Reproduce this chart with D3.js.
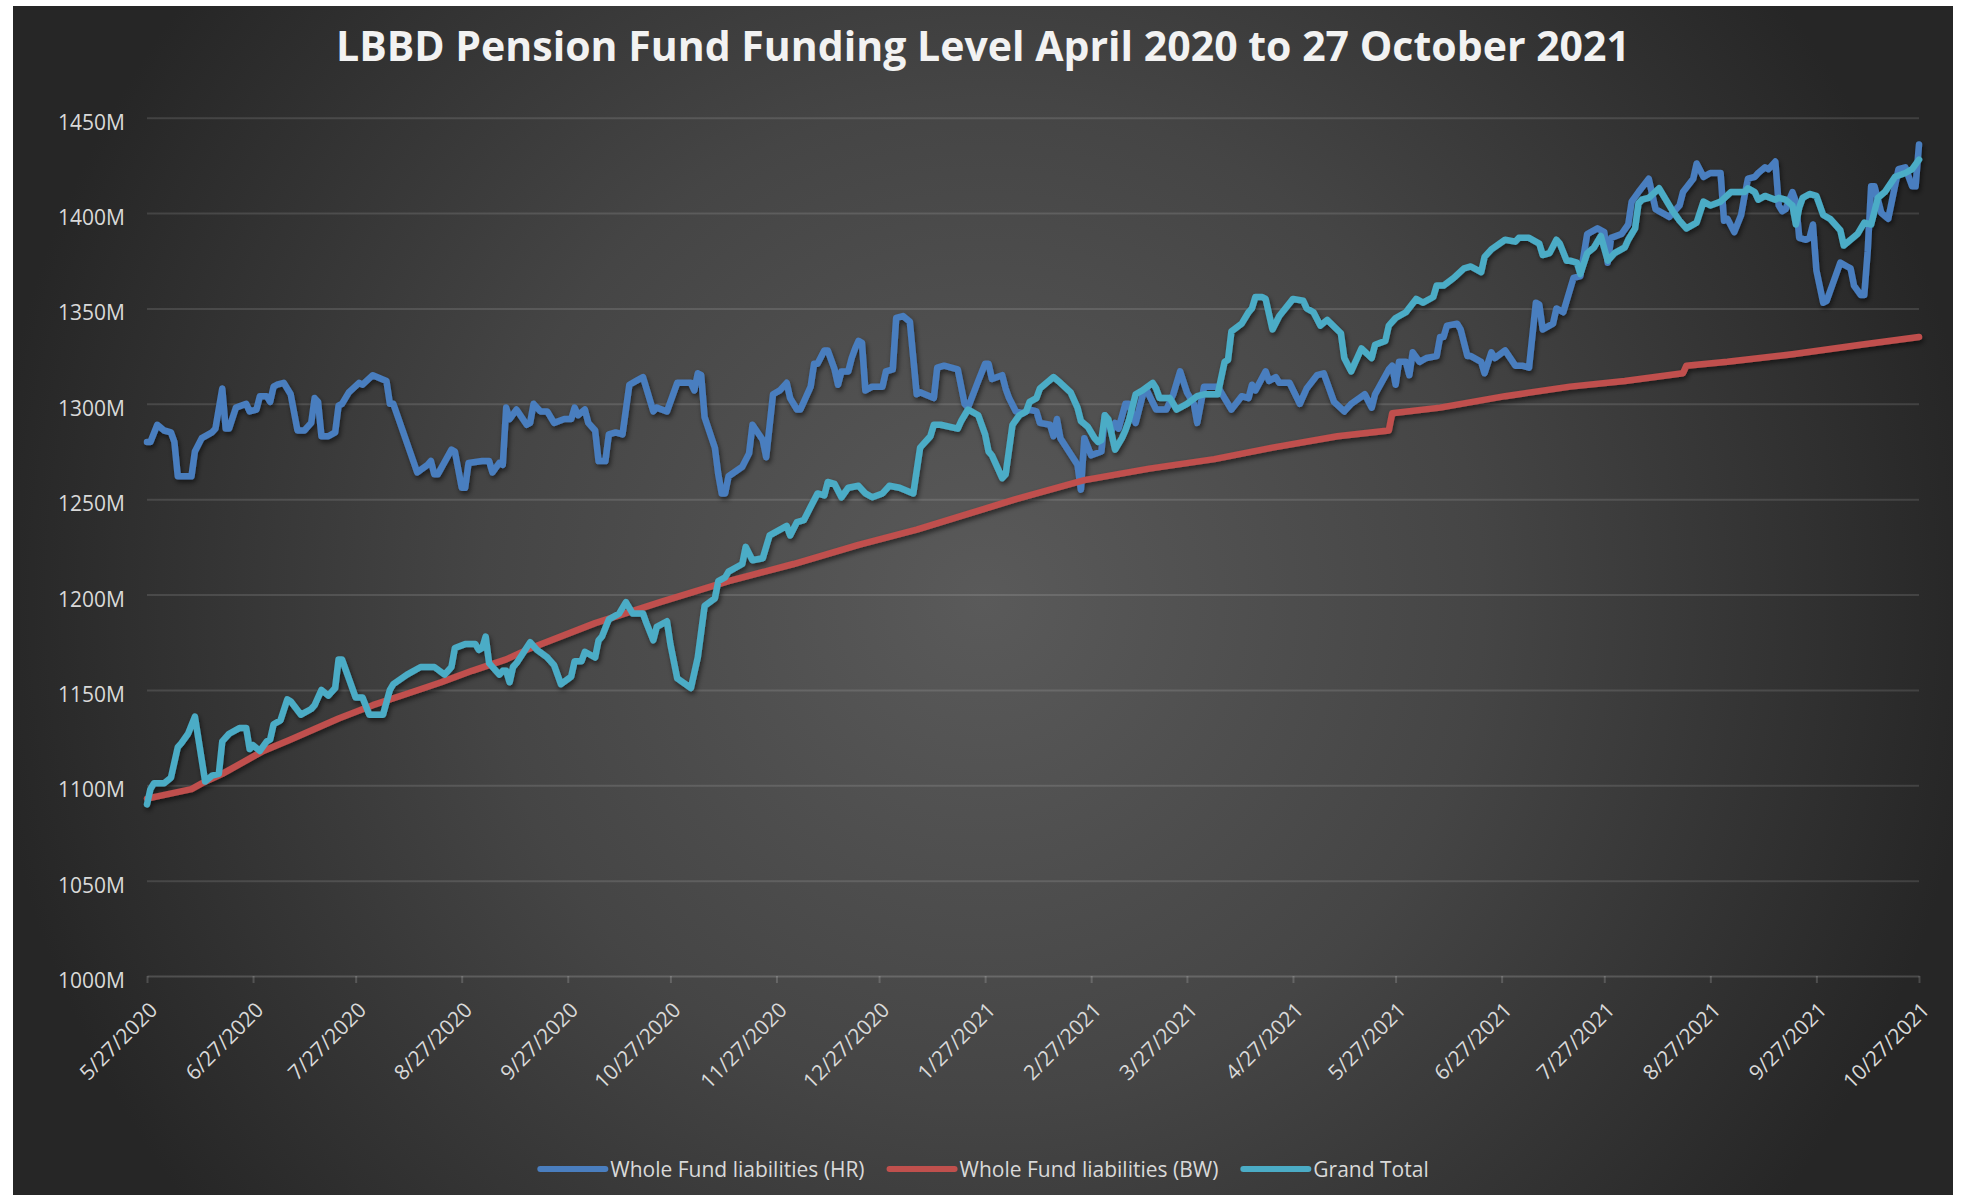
<!doctype html>
<html>
<head>
<meta charset="utf-8">
<style>
    body { margin: 0; background: #fff; }
    svg { display: block; }
    text { font-family: 'Open Sans', sans-serif; }
    .grid line { stroke: #fff; stroke-opacity: 0.12; stroke-width: 2; }
    .grid path { stroke-width: 0; }
    .xaxis path, .xaxis line { stroke: #fff; stroke-opacity: 0.17; stroke-width: 2; }
    .tick text { fill: #d9d9d9; font-size: 21px; }
    text.title { fill: #f2f2f2; font-size: 42px; font-weight: 700; }
    text.legend { fill: #d9d9d9; font-size: 21px; }
    .series { fill: none; stroke-width: 6.5; stroke-linejoin: round; stroke-linecap: round; }
</style>
<script src="https://d3js.org/d3.v7.min.js"></script>
</head>
<body>
<svg width="1966" height="1195"></svg>
<script>
const startDate = '2020-05-27'

// x tick labels (27th of each month)
const xTickLabels = ['5/27/2020', '6/27/2020', '7/27/2020', '8/27/2020', '9/27/2020', '10/27/2020',
    '11/27/2020', '12/27/2020', '1/27/2021', '2/27/2021', '3/27/2021', '4/27/2021', '5/27/2021',
    '6/27/2021', '7/27/2021', '8/27/2021', '9/27/2021', '10/27/2021']
const yTicks = [1000, 1050, 1100, 1150, 1200, 1250, 1300, 1350, 1400, 1450]

const seriesNames = ['Whole Fund liabilities (HR)', 'Whole Fund liabilities (BW)', 'Grand Total']

// Whole Fund liabilities (HR): days after start, value in £M
const hrDays = [0, 1, 3, 5, 7, 8, 9, 13, 14, 16, 19, 20, 22, 23, 24, 26, 29, 30, 32, 33, 35, 36, 37, 38, 40, 42, 44, 46, 48, 49,
    50, 51, 53, 55, 56, 57, 59, 62, 63, 66, 70, 71, 72, 79, 82, 83, 84, 85, 89, 90, 92, 93, 94, 98, 100, 101, 103, 104, 105, 106,
    108, 111, 112, 113, 115, 117, 119, 122, 124, 125, 126, 128, 129, 131, 132, 134, 135, 137, 139, 141, 143, 145, 146, 148, 149, 152, 153, 155, 156, 159,
    160, 161, 162, 163, 166, 167, 168, 169, 170, 174, 176, 177, 180, 181, 183, 185, 187, 188, 190, 191, 194, 195, 196, 198, 199, 201, 202, 203, 205, 206,
    207, 208, 209, 210, 212, 215, 216, 218, 219, 221, 223, 225, 226, 230, 231, 233, 237, 239, 240, 243, 245, 246, 247, 250, 251, 252, 254, 256, 258, 260,
    261, 264, 265, 266, 267, 272, 273, 274, 276, 279, 280, 282, 283, 284, 286, 287, 289, 291, 292, 295, 298, 300, 302, 304, 306, 307, 309, 313, 315, 317,
    320, 322, 323, 324, 327, 328, 330, 331, 334, 337, 339, 342, 344, 347, 350, 352, 356, 358, 359, 363, 364, 365, 366, 368, 369, 370, 372, 374, 377, 378,
    379, 380, 383, 384, 386, 387, 390, 391, 393, 394, 397, 400, 402, 404, 406, 407, 408, 411, 412, 414, 417, 419, 421, 424, 426, 427, 428, 431, 433, 434,
    436, 439, 441, 442, 445, 448, 449, 452, 453, 455, 457, 460, 461, 462, 464, 466, 467, 468, 470, 471, 473, 474, 476, 477, 478, 479, 481, 482, 483, 485,
    486, 487, 488, 490, 491, 493, 495, 497, 498, 499, 501, 502, 503, 504, 505, 507, 509, 512, 514, 516, 517, 518]
const hrValues = [1280, 1280, 1289, 1286, 1285, 1280, 1262, 1262, 1275, 1282, 1285, 1287, 1308, 1287, 1287, 1298, 1300, 1296, 1297, 1304, 1304, 1301, 1309, 1310, 1311, 1305, 1286, 1286, 1290, 1303,
    1301, 1283, 1283, 1285, 1299, 1300, 1306, 1311, 1310, 1315, 1312, 1300, 1300, 1264, 1268, 1270, 1263, 1263, 1276, 1275, 1256, 1256, 1269, 1270, 1270, 1264, 1269, 1268, 1298, 1292,
    1297, 1289, 1290, 1300, 1296, 1296, 1290, 1292, 1292, 1298, 1294, 1297, 1290, 1286, 1270, 1270, 1284, 1285, 1284, 1310, 1312, 1314, 1308, 1296, 1298, 1296, 1301, 1311, 1311, 1311,
    1307, 1316, 1315, 1293, 1277, 1263, 1253, 1253, 1262, 1267, 1274, 1289, 1281, 1272, 1305, 1307, 1311, 1303, 1297, 1297, 1309, 1321, 1321, 1328, 1328, 1318, 1310, 1317, 1317, 1324,
    1329, 1333, 1332, 1307, 1309, 1309, 1317, 1318, 1345, 1346, 1343, 1305, 1306, 1303, 1319, 1320, 1318, 1300, 1298, 1312, 1321, 1321, 1313, 1315, 1308, 1303, 1296, 1295, 1297, 1296,
    1290, 1289, 1283, 1292, 1282, 1268, 1255, 1282, 1273, 1275, 1294, 1286, 1290, 1287, 1300, 1300, 1290, 1304, 1308, 1297, 1297, 1305, 1317, 1306, 1300, 1290, 1309, 1309, 1303, 1297,
    1304, 1303, 1310, 1307, 1317, 1312, 1314, 1311, 1311, 1300, 1308, 1315, 1316, 1301, 1296, 1300, 1305, 1298, 1305, 1318, 1320, 1310, 1322, 1322, 1315, 1327, 1322, 1324, 1325, 1335,
    1335, 1341, 1342, 1339, 1325, 1325, 1322, 1316, 1327, 1324, 1328, 1320, 1320, 1319, 1353, 1352, 1339, 1342, 1350, 1348, 1366, 1367, 1389, 1392, 1390, 1374, 1387, 1389, 1394, 1406,
    1411, 1418, 1402, 1401, 1398, 1404, 1411, 1418, 1426, 1419, 1421, 1421, 1396, 1397, 1390, 1399, 1409, 1418, 1419, 1421, 1424, 1423, 1427, 1404, 1401, 1402, 1411, 1406, 1387, 1386,
    1387, 1394, 1370, 1353, 1354, 1364, 1374, 1372, 1371, 1362, 1357, 1357, 1380, 1414, 1414, 1400, 1397, 1423, 1424, 1414, 1414, 1436]

// Whole Fund liabilities (BW)
const bwDays = [0, 13, 16, 22, 28, 34, 42, 56, 66, 76, 86, 95, 105, 111, 131, 150, 170, 189, 208, 225,
    245, 254, 274, 293, 312, 329, 348, 363, 364, 378, 397, 416, 432, 449, 450, 462, 481, 501, 518]
const bwValues = [1093, 1098, 1101, 1106, 1112, 1118, 1124, 1135, 1142, 1148, 1154, 1160, 1166, 1171, 1185, 1196, 1207, 1216, 1226, 1234,
    1245, 1250, 1260, 1266, 1271, 1277, 1283, 1286, 1295, 1298, 1304, 1309, 1312, 1316, 1320, 1322, 1326, 1331, 1335]

// Grand Total
const gtDays = [0, 1, 2, 5, 7, 9, 10, 12, 14, 17, 19, 21, 22, 24, 27, 29, 30, 31, 33, 35, 36, 37, 39, 41, 42, 45, 48, 49, 51, 53,
    55, 56, 57, 61, 63, 65, 69, 71, 72, 76, 80, 84, 87, 89, 90, 93, 96, 97, 98, 99, 100, 103, 104, 105, 106, 107, 108, 112, 114, 117,
    119, 121, 124, 125, 127, 128, 131, 132, 133, 135, 138, 140, 142, 145, 146, 148, 149, 152, 153, 155, 159, 161, 163, 166, 167, 169, 170, 174, 175, 177,
    180, 182, 187, 188, 190, 192, 194, 196, 198, 199, 201, 203, 205, 208, 210, 212, 215, 217, 220, 224, 226, 229, 230, 232, 237, 238, 240, 243, 245, 246,
    247, 250, 251, 253, 255, 257, 258, 260, 261, 263, 265, 267, 270, 272, 273, 275, 277, 278, 279, 280, 281, 283, 285, 286, 287, 289, 291, 294, 295, 296,
    299, 301, 304, 307, 309, 313, 315, 316, 317, 320, 322, 323, 324, 326, 327, 329, 331, 335, 338, 339, 341, 343, 345, 349, 350, 352, 355, 358, 359, 362,
    363, 365, 368, 371, 373, 376, 377, 379, 382, 385, 387, 390, 391, 393, 397, 400, 401, 404, 407, 408, 410, 412, 413, 415, 416, 418, 419, 421, 423, 425,
    427, 429, 432, 433, 435, 436, 437, 439, 442, 446, 448, 450, 453, 455, 457, 460, 463, 465, 467, 468, 470, 471, 473, 476, 477, 479, 481, 482, 483, 484,
    486, 488, 490, 492, 495, 496, 498, 500, 502, 504, 506, 508, 511, 514, 516, 518]
const gtValues = [1090, 1098, 1101, 1101, 1104, 1120, 1122, 1127, 1136, 1102, 1105, 1106, 1123, 1127, 1130, 1130, 1119, 1121, 1118, 1123, 1124, 1132, 1134, 1145, 1144, 1137, 1140, 1142, 1150, 1147,
    1151, 1166, 1166, 1146, 1146, 1137, 1137, 1150, 1153, 1158, 1162, 1162, 1158, 1162, 1172, 1174, 1174, 1171, 1172, 1178, 1164, 1158, 1160, 1160, 1154, 1162, 1164, 1175, 1171, 1167,
    1163, 1153, 1157, 1165, 1165, 1170, 1167, 1176, 1178, 1187, 1190, 1196, 1190, 1190, 1185, 1176, 1183, 1186, 1174, 1156, 1151, 1167, 1194, 1198, 1207, 1209, 1212, 1216, 1225, 1218,
    1219, 1231, 1236, 1231, 1238, 1239, 1246, 1253, 1252, 1259, 1258, 1251, 1256, 1257, 1253, 1251, 1253, 1257, 1256, 1253, 1277, 1283, 1289, 1289, 1287, 1291, 1297, 1294, 1284, 1275,
    1273, 1261, 1263, 1289, 1294, 1296, 1301, 1303, 1308, 1311, 1314, 1311, 1306, 1298, 1291, 1288, 1282, 1280, 1281, 1294, 1292, 1276, 1282, 1286, 1291, 1305, 1307, 1311, 1308, 1303,
    1303, 1297, 1300, 1304, 1305, 1305, 1322, 1323, 1338, 1342, 1348, 1350, 1356, 1356, 1355, 1339, 1346, 1355, 1354, 1350, 1348, 1341, 1344, 1337, 1324, 1317, 1329, 1324, 1331, 1333,
    1341, 1345, 1348, 1355, 1353, 1356, 1362, 1362, 1366, 1371, 1372, 1369, 1377, 1381, 1386, 1385, 1387, 1387, 1384, 1378, 1379, 1386, 1384, 1375, 1375, 1374, 1368, 1379, 1382, 1388,
    1375, 1379, 1382, 1386, 1392, 1405, 1407, 1408, 1413, 1401, 1396, 1392, 1395, 1406, 1404, 1406, 1411, 1411, 1411, 1413, 1411, 1407, 1409, 1407, 1408, 1407, 1404, 1394, 1403, 1408,
    1410, 1409, 1399, 1397, 1391, 1383, 1386, 1389, 1395, 1394, 1408, 1411, 1419, 1421, 1423, 1428]

const colors = ['#4a7ebf', '#c0504d', '#4bacc6']

const svg = d3.select('svg')
const W = 1966, H = 1195

const parseDay = d3.timeParse('%Y-%m-%d')
const parseTick = d3.timeParse('%m/%d/%Y')
const start = parseDay(startDate)
const toPoints = (days, vals) => days.map((d, i) => ({ date: d3.timeDay.offset(start, d), v: vals[i] }))

const series = [
    toPoints(hrDays, hrValues),
    toPoints(bwDays, bwValues),
    toPoints(gtDays, gtValues)
]

// background panel with radial gradient
const defs = svg.append('defs')
const grad = defs.append('radialGradient')
    .attr('id', 'bg')
    .attr('gradientUnits', 'userSpaceOnUse')
    .attr('cx', 983).attr('cy', 600).attr('r', 1000)
grad.append('stop').attr('offset', 0).attr('stop-color', '#5a5a5a')
grad.append('stop').attr('offset', 0.5).attr('stop-color', '#454545')
grad.append('stop').attr('offset', 1).attr('stop-color', '#262626')

const shadow = defs.append('filter')
    .attr('id', 'shadow')
    .attr('x', '-5%').attr('y', '-10%')
    .attr('width', '110%').attr('height', '130%')
shadow.append('feDropShadow')
    .attr('dx', 1.5).attr('dy', 3)
    .attr('stdDeviation', 2.5)
    .attr('flood-color', '#000')
    .attr('flood-opacity', 0.55)

svg.append('rect')
    .attr('x', 13).attr('y', 6)
    .attr('width', 1940).attr('height', H - 6)
    .attr('fill', 'url(#bg)')

const plotLeft = 147, plotRight = 1919, plotTop = 117.7, plotBottom = 976

const xScale = d3.scaleTime()
    .domain([start, parseTick(xTickLabels[xTickLabels.length - 1])])
    .range([plotLeft, plotRight])

const yScale = d3.scaleLinear()
    .domain([1000, 1450])
    .range([plotBottom, plotTop])

// grid + y labels
const grid = svg.append('g')
    .attr('class', 'grid')
    .attr('transform', `translate(${plotLeft}, 0)`)
    .call(d3.axisLeft(yScale)
        .tickValues(yTicks.slice(1))
        .tickSize(-(plotRight - plotLeft))
        .tickFormat(d => d + 'M'))
grid.select('.domain').remove()
grid.selectAll('.tick text')
    .attr('x', -22)
    .attr('dy', '0.55em')
    .attr('font-family', null)
    .attr('font-size', null)

// y label for the base line (axis line drawn by the x axis)
svg.append('g').attr('class', 'grid')
    .attr('transform', `translate(${plotLeft}, 0)`)
    .call(d3.axisLeft(yScale).tickValues([yTicks[0]]).tickSize(0).tickFormat(d => d + 'M'))
    .call(g => g.select('.domain').remove())
    .selectAll('.tick text')
    .attr('x', -22)
    .attr('dy', '0.55em')
    .attr('font-family', null)
    .attr('font-size', null)

// x axis
const xAxis = svg.append('g')
    .attr('class', 'xaxis')
    .attr('transform', `translate(0, ${plotBottom})`)
    .call(d3.axisBottom(xScale)
        .tickValues(xTickLabels.map(parseTick))
        .tickSize(7)
        .tickSizeOuter(0)
        .tickFormat((d, i) => xTickLabels[i]))
xAxis.selectAll('.tick text')
    .attr('font-family', null)
    .attr('font-size', null)
    .attr('x', null)
    .attr('y', null)
    .attr('dy', '0.35em')
    .attr('text-anchor', 'end')
    .attr('transform', 'translate(6, 30) rotate(-45)')

// lines
const line = d3.line()
    .x(d => xScale(d.date))
    .y(d => yScale(d.v))

const lines = svg.append('g').attr('filter', 'url(#shadow)')
series.forEach((s, i) => {
    lines.append('path')
        .datum(s)
        .attr('class', 'series')
        .attr('stroke', colors[i])
        .attr('d', line)
})

// title
svg.append('text')
    .attr('class', 'title')
    .attr('x', W / 2)
    .attr('y', 61)
    .attr('text-anchor', 'middle')
    .attr('textLength', 1294)
    .attr('lengthAdjust', 'spacingAndGlyphs')
    .text('LBBD Pension Fund Funding Level April 2020 to 27 October 2021')

// legend
const legend = svg.append('g')
const legendY = 1169
let lx = 0
seriesNames.forEach((name, i) => {
    legend.append('line')
        .attr('x1', lx + 3).attr('x2', lx + 68)
        .attr('y1', legendY).attr('y2', legendY)
        .attr('stroke', colors[i])
        .attr('stroke-width', 6)
        .attr('stroke-linecap', 'round')
    const t = legend.append('text')
        .attr('class', 'legend')
        .attr('x', lx + 73)
        .attr('y', legendY + 8)
        .text(name)
    lx += 73 + t.node().getComputedTextLength() + 22
})
const legendW = lx - 22
legend.attr('transform', `translate(${W / 2 - legendW / 2}, 0)`)
</script>
</body>
</html>
